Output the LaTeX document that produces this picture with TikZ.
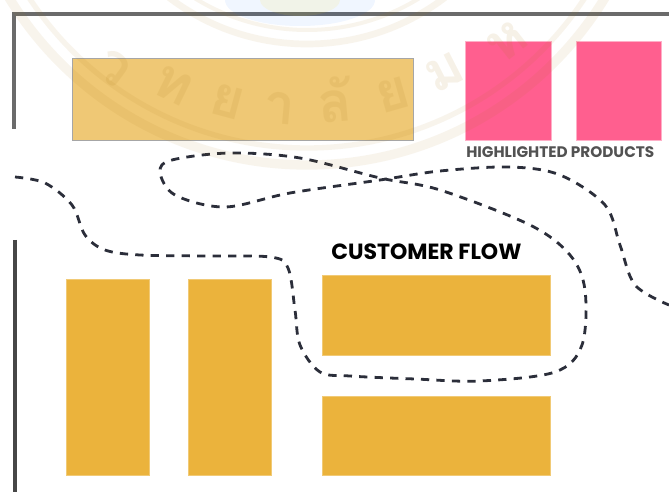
\documentclass[tikz,border=0pt]{standalone}
\usepackage{fontspec}
\setmainfont{Poppins}
\newfontfamily\thaifont[Script=Thai]{Loma}
\definecolor{shelf}{RGB}{235, 179, 60}
\definecolor{shelftop}{RGB}{239, 200, 117}
\definecolor{hot}{RGB}{255, 95, 143}
\definecolor{flow}{RGB}{43, 46, 58}
\definecolor{sealtan}{RGB}{170, 120, 20}
\tikzset{
  shelfbox/.style={fill=shelf, draw=shelf!70!white, line width=0.4},
  hotbox/.style={fill=hot, draw=hot!50!white, line width=0.4},
  flowpath/.style={flow, line width=2.1, dash pattern=on 6.2 off 5.4},
  wall/.style={line width=2.4},
  sealring/.style={draw=sealtan, opacity=0.08},
  sealglyph/.style={text=sealtan, text opacity=0.1, inner sep=0, font=\thaifont\bfseries\fontsize{42}{42}\selectfont},
}
\begin{document}
\begin{tikzpicture}[x=0.75pt, y=-0.75pt]

  \useasboundingbox (0, 0) rectangle (669, 492);
  \clip (0, 0) rectangle (669, 492);

  \fill[white] (0, 0) rectangle (669, 492);

  \draw[wall, color=black!58] (14, 129) -- (14, 14) -- (669, 14);
  \draw[wall, color=black!72] (15, 240) -- (15, 492);

  \filldraw[fill=shelftop, draw=black!35, line width=0.5] (72, 58) rectangle (413, 140);
  \filldraw[hotbox] (465, 41) rectangle (551, 140);
  \filldraw[hotbox] (576, 41) rectangle (661, 140);

  \filldraw[shelfbox] (66, 279) rectangle (149, 475);
  \filldraw[shelfbox] (188, 279) rectangle (271, 475);
  \filldraw[shelfbox] (322, 275) rectangle (550, 355);
  \filldraw[shelfbox] (322, 396) rectangle (550, 475);

  \node[text=black!68, font=\bfseries\fontsize{11.45}{11.45}\selectfont, anchor=west, inner sep=0]
    (highlighted) at (466, 152) {HIGHLIGHTED PRODUCTS};
  \node[text=black, font=\bfseries\fontsize{16.5}{16.5}\selectfont, anchor=west, inner sep=0]
    (customer) at (331, 251.5) {CUSTOMER FLOW};

  \draw[flowpath] plot[smooth, tension=0.55] coordinates {
    (15, 177) (45, 183) (72, 205) (85, 235) (105, 250) (140, 255)
    (205, 256) (270, 257) (288, 268) (295, 310) (300, 345) (320, 372)
    (350, 376) (415, 379) (480, 381) (555, 372) (582, 345) (585, 290)
    (570, 255) (530, 225) (440, 190) (380, 178) (300, 158) (230, 153)
    (172, 160) (160, 172) (175, 195) (225, 207) (290, 193) (380, 180)
    (440, 171) (510, 167) (560, 175) (605, 205) (620, 245) (635, 285) (669, 305)
  };

  \draw[sealring, line width=7] (307, -184) circle (349);
  \draw[sealring, line width=4] (307, -184) circle (332);
  \draw[sealring, line width=5] (307, -184) circle (228);
  \draw[sealring, line width=3] (307, -184) circle (214);

  \fill[blue!60!cyan, opacity=0.06] (300, 0) ellipse (75 and 26);
  \fill[yellow!80!orange, opacity=0.09] (300, 0) ellipse (40 and 16);

  \node[sealglyph, rotate=-36] (gw) at (113, 68) {ว};
  \node[sealglyph, rotate=-26] (gt) at (173, 85) {ท};
  \node[sealglyph, rotate=-15] (gy) at (227, 102) {ย};
  \node[sealglyph, rotate=-5] (ga) at (280, 108) {า};
  \node[sealglyph, rotate=5] (gl) at (335, 100) {ลั};
  \node[sealglyph, rotate=16] (gz) at (393, 95) {ย};
  \node[sealglyph, rotate=27] (gm) at (445, 72) {ม};
  \node[sealglyph, rotate=38] (gh) at (507, 42) {ห};

\end{tikzpicture}
\end{document}
